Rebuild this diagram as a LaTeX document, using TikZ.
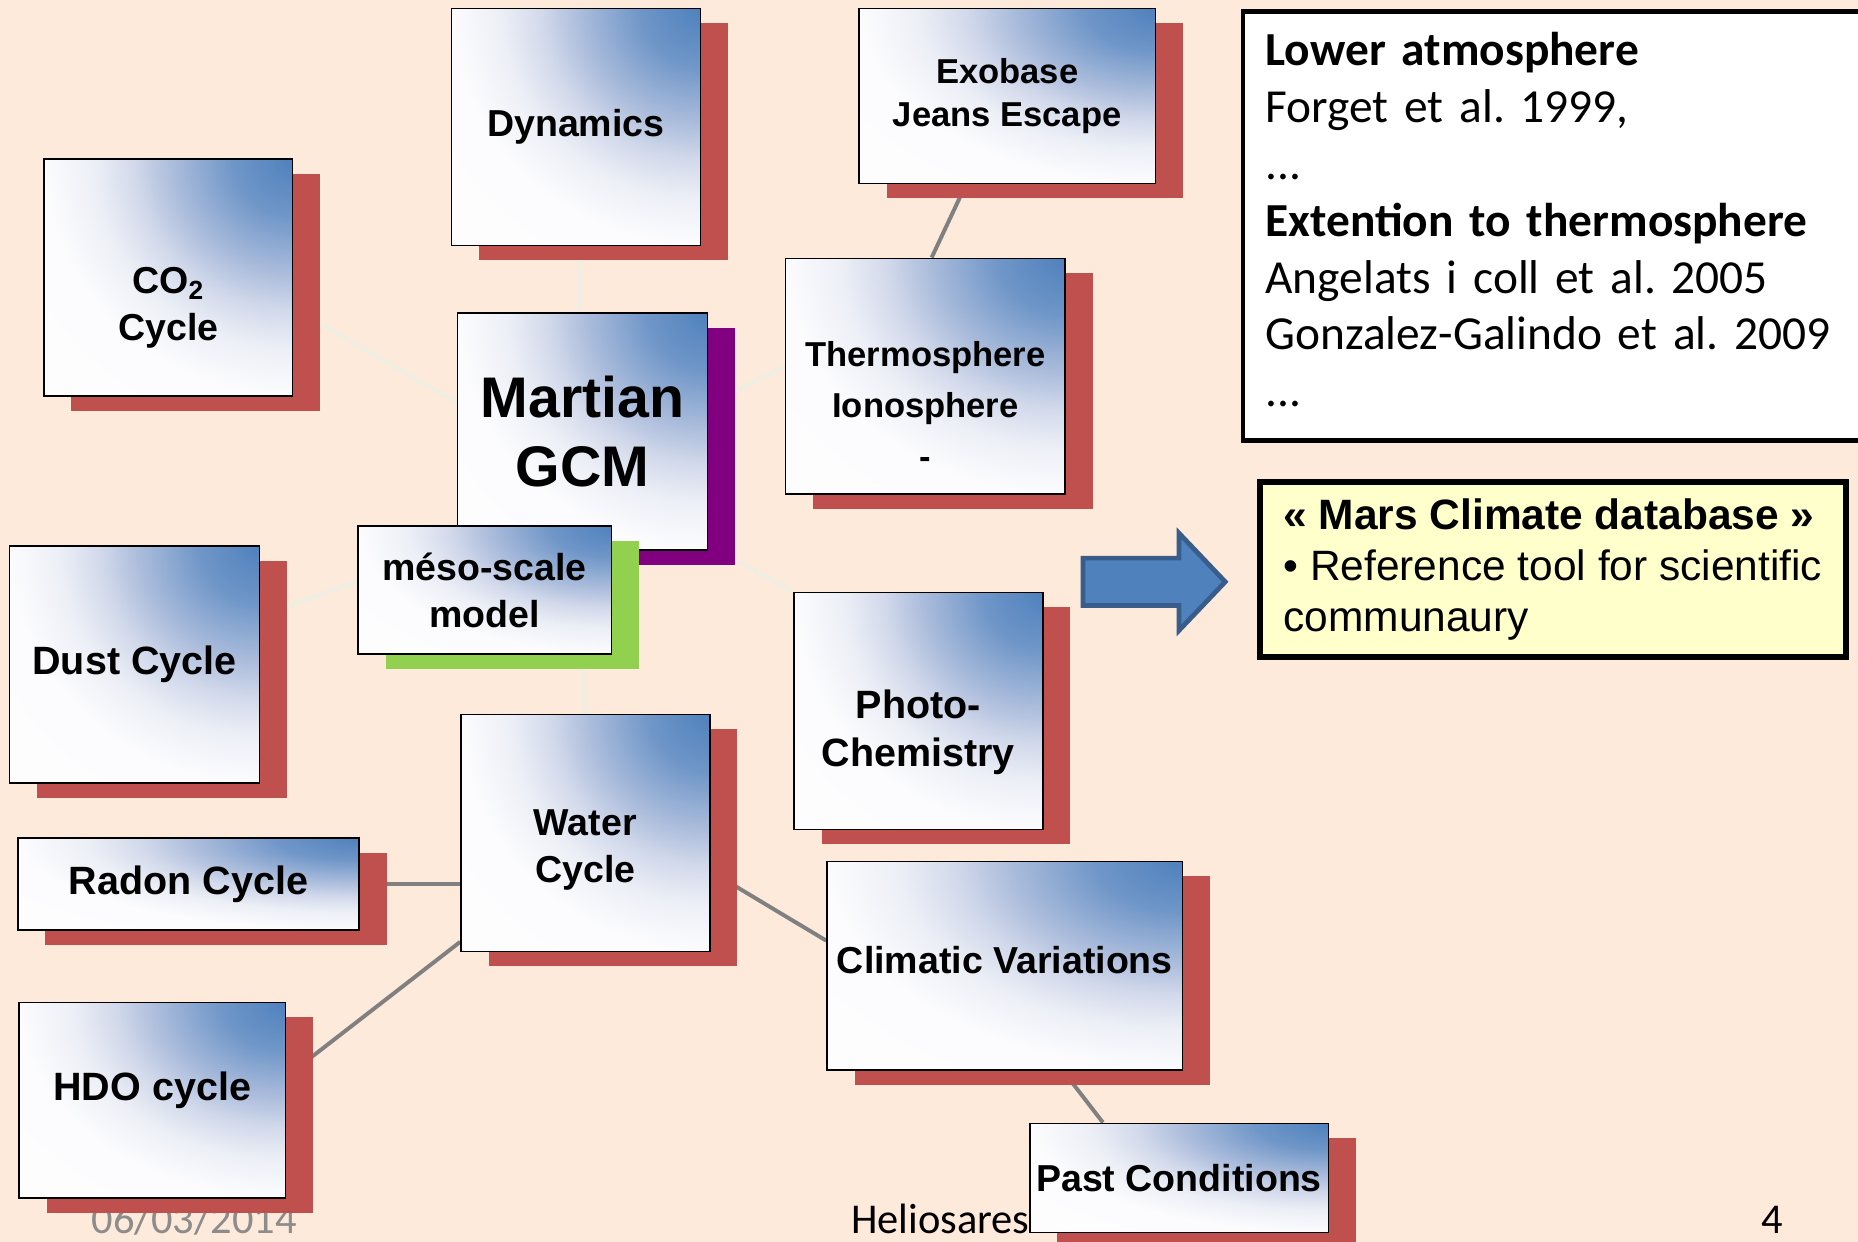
\documentclass[tikz,border=0pt]{standalone}
\usepackage{fontspec}
\setmainfont{Carlito}
\newfontfamily\arialfam{Liberation Sans}
\usetikzlibrary{calc,shadows,backgrounds}
\pgfdeclarelayer{back}
\pgfsetlayers{back,background,main}
\frenchspacing

\definecolor{slidebg}{RGB}{253,234,218}
\definecolor{shadowred}{RGB}{192,80,77}
\definecolor{gcmpurple}{RGB}{128,0,128}
\definecolor{mesogreen}{RGB}{146,208,80}
\definecolor{boxblue}{RGB}{79,129,189}
\definecolor{boxblueA}{RGB}{111,150,200}
\definecolor{boxblueB}{RGB}{175,191,221}
\definecolor{boxblueC}{RGB}{210,217,235}
\definecolor{boxblueD}{RGB}{236,239,246}
\definecolor{boxblueE}{RGB}{252,252,254}
\definecolor{faintline}{RGB}{238,238,226}
\definecolor{linkgray}{RGB}{128,128,128}
\definecolor{notegold}{RGB}{255,255,204}
\definecolor{arrowedge}{RGB}{56,93,138}
\definecolor{dategray}{RGB}{140,140,140}

\pgfdeclareradialshading{cornershade}{\pgfpoint{0bp}{0bp}}{%
	color(0bp)=(boxblue); color(6bp)=(boxblueA); color(12.5bp)=(boxblueB);
	color(16bp)=(boxblueC); color(20bp)=(boxblueD); color(25bp)=(boxblueE);
	color(50bp)=(white)}

\newcommand\boxfont{\arialfam\bfseries\fontsize{19}{24}\selectfont}
\newcommand\bigboxfont{\arialfam\bfseries\fontsize{20}{24}\selectfont}
\newcommand\smallboxfont{\arialfam\bfseries\fontsize{17.5}{21.6}\selectfont}
\newcommand\thermofont{\arialfam\bfseries\fontsize{17.5}{25.8}\selectfont}
\newcommand\gcmfont{\arialfam\bfseries\fontsize{29}{34.8}\selectfont}
\newcommand\reffont{\fontsize{24}{28.8}\selectfont}
\newcommand\notefont{\arialfam\fontsize{21.5}{25.8}\selectfont}
\newcommand\footfont{\fontsize{21.5}{25}\selectfont}

\tikzset{
	topic/.style={draw=black, line width=0.8pt, fill=white, align=center, font=\boxfont, inner sep=2pt,
		path picture={\shade[shading=cornershade]
			($(path picture bounding box.north east)!-1!(path picture bounding box.south west)$)
			rectangle (path picture bounding box.south west);},
		general shadow={fill=#1, shadow xshift=14pt, shadow yshift=-7.5pt}},
	topic/.default=shadowred,
	boxsize/.style 2 args={minimum width=#1*0.6pt, minimum height=#2*0.6pt},
	faint/.style={draw=faintline, line width=2pt},
	link/.style={draw=linkgray, line width=2pt},
}

\begin{document}
\begin{tikzpicture}[x=0.6pt, y=-0.6pt]
	\begin{pgfonlayer}{back}
		\fill[slidebg] (0,0) rectangle (1568,1048);
	\end{pgfonlayer}
	\useasboundingbox (0,0) rectangle (1568,1048);

	\node (date) at (77,1041) [anchor=base west, inner sep=0, text=dategray, font=\footfont] {06/03/2014};
	\node (venue) at (718,1041) [anchor=base west, inner sep=0, font=\footfont] {Heliosares};
	\node (page) at (1486,1041) [anchor=base west, inner sep=0, font=\footfont] {4};

	\node (co2) at (142,234) [topic, boxsize={210}{200}] {\rule{0pt}{20pt}\\CO\textsubscript{2}\\Cycle};
	\node (dyn) at (486,107) [topic, boxsize={210}{200}] {Dynamics};
	\node (gcm) at (491.5,364) [topic=gcmpurple, boxsize={211}{200}, font=\gcmfont] {Martian\\GCM};
	\node (meso) at (409,498) [topic=mesogreen, boxsize={214}{108}] {méso-scale\\model};
	\node (exo) at (850,81) [topic, boxsize={250}{148}, font=\smallboxfont] {Exobase\\Jeans Escape};
	\node (thermo) at (781,317.5) [topic, boxsize={236}{199}, font=\thermofont] {\rule{0pt}{16pt}\\Thermosphere\\Ionosphere\\-};
	\node (dust) at (113.5,561) [topic, boxsize={211}{200}, font=\bigboxfont] {Dust Cycle};
	\node (photo) at (775,600) [topic, boxsize={210}{200}, font=\bigboxfont] {\rule{0pt}{12pt}\\Photo-\\Chemistry};
	\node (radon) at (159,746) [topic, boxsize={288}{78}, font=\bigboxfont] {Radon Cycle};
	\node (water) at (494,703) [topic, boxsize={210}{200}] {\rule{0pt}{6pt}\\Water\\Cycle};
	\node (hdo) at (128.5,928.5) [topic, boxsize={225}{165}, font=\bigboxfont] {HDO cycle\\[-10pt]\mbox{}};
	\node (clim) at (848,815) [topic, boxsize={300}{176}] {Climatic Variations\\[-18pt]\mbox{}};
	\node (past) at (995,994) [topic, boxsize={252}{92}] {Past Conditions};

	\begin{scope}[on background layer]
		\draw[faint] (dyn) -- (gcm);
		\draw[faint] (co2.346) -- (gcm.167);
		\draw[faint] (gcm.12) -- (thermo.176);
		\draw[faint] (gcm.318) -- (photo.north west);
		\draw[faint] (dust.21) -- (meso.176);
		\draw[faint] (gcm) -- (water);
		\draw[link] (exo.245) -- (thermo.87);
		\draw[link] (radon) -- (radon -| water);
		\draw[link] (hdo.10) -- (water.221);
		\draw[link] (water.343) -- (clim.172);
		\draw[link] (clim.299) -- (past.144);
	\end{scope}

	\node (refs) at (1047,8) [anchor=north west, draw, line width=2.4pt, fill=white, text width=324pt, inner xsep=11.4pt, minimum height=217.2pt, align=left, font=\reffont] {\textbf{Lower atmosphere}\\Forget et al. 1999,\\...\\\textbf{Extention to thermosphere}\\Angelats i coll et al. 2005\\Gonzalez-Galindo et al. 2009\\...\\[-22pt]\mbox{}};
	\node (mcd) at (1061,404) [anchor=north west, draw, line width=3pt, fill=notegold, minimum width=296.4pt, minimum height=88.8pt, align=left, font=\notefont] {\textbf{« Mars Climate database »}\\• Reference tool for scientific\\communaury};

	\draw[line width=2.4pt, draw=arrowedge, fill=boxblue, line join=miter] (914,471) -- (995,471) -- (995,450) -- (1034,491) -- (995,532) -- (995,511) -- (914,511) -- cycle;
\end{tikzpicture}
\end{document}
